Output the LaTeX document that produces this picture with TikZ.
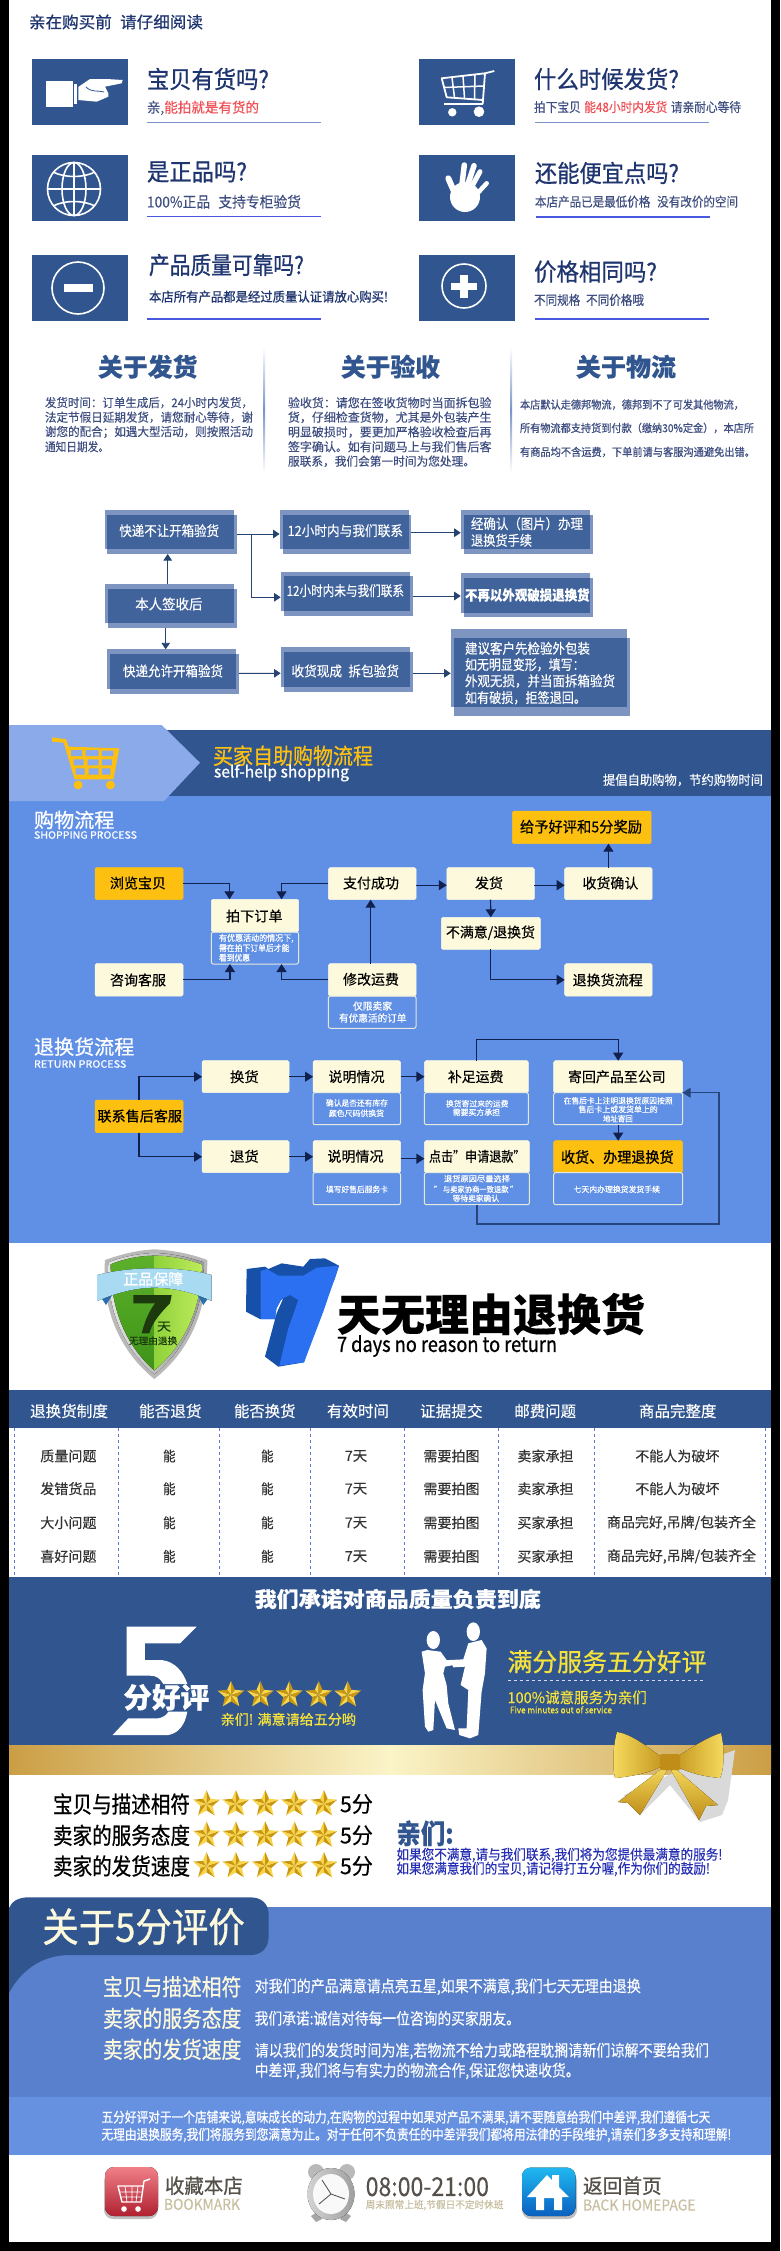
\documentclass[tikz,border=0pt]{standalone}
\usepackage{fontspec}
\usepackage{graphicx}
\setmainfont[FakeBold=0.25]{Noto Sans CJK SC}
\newfontfamily\semib[FakeBold=0.8]{Noto Sans CJK SC}
\usetikzlibrary{arrows.meta,shapes.geometric,calc}
\definecolor{navy}{HTML}{30558F}
\definecolor{ink}{HTML}{1F3570}
\definecolor{subink}{HTML}{3F4F82}
\definecolor{flowl}{HTML}{7D95C0}
\definecolor{flowd}{HTML}{41639C}
\definecolor{skyb}{HTML}{6090E6}
\definecolor{lightb}{HTML}{8AAAEA}
\definecolor{gold}{HTML}{FDC010}
\definecolor{cream}{HTML}{FDF9DC}
\definecolor{lineb}{HTML}{7A93C8}
\definecolor{redt}{HTML}{F04F55}
\definecolor{arrowd}{HTML}{10214F}
\definecolor{ylw}{HTML}{F5E23C}
\definecolor{midb}{HTML}{5880CC}
\definecolor{bandb}{HTML}{6690E0}
\definecolor{beige}{HTML}{C8BFA0}
\definecolor{brownt}{HTML}{55504A}
\definecolor{bandgold}{HTML}{CB9E45}
\definecolor{bandlight}{HTML}{FBF4C8}
\definecolor{bowa}{HTML}{F6DC60}
\definecolor{bowb}{HTML}{C08E18}
\definecolor{shla}{HTML}{5DB02A}
\definecolor{shlb}{HTML}{3E9418}
\definecolor{shra}{HTML}{8FD23A}
\definecolor{shrb}{HTML}{BDEB5C}
\definecolor{ribl}{HTML}{A8DAF2}
\definecolor{ribm}{HTML}{2F86D0}
\definecolor{ribd}{HTML}{2A6FB0}
\definecolor{sevena}{HTML}{2A70F0}
\definecolor{sevenb}{HTML}{1650A8}
\definecolor{dark7}{HTML}{1C3A0E}
\definecolor{homea}{HTML}{20B8F0}
\definecolor{homeb}{HTML}{0A60C0}
\definecolor{reda}{HTML}{F08088}
\definecolor{redb}{HTML}{B02030}
\newcounter{tcnt}
\newsavebox{\tb}
% left x, right x, centre y, size, text
\newcommand\TF[6][]{\stepcounter{tcnt}\node[anchor=west,inner sep=0pt,outer sep=0pt,#1] (t\arabic{tcnt}) at (#2,#4) {\sbox\tb{\fontsize{#5}{#5}\selectfont #6}\pgfmathsetmacro\rr{(#3-#2)/\the\wd\tb}\scalebox{\rr}[1]{\usebox\tb}};}
% flow box: name, A rectangle, B rectangle
\newcommand\FB[9]{\fill[flowl] (#2,#3) rectangle (#4,#5); \fill[flowl] (#6,#7) rectangle (#8,#9); \fill[flowd] (#6,#7) rectangle (#4,#5);
 \node[inner sep=0pt,outer sep=0pt,minimum width={(#8-#2)*1pt},minimum height={(#9-#3)*1pt}] (#1) at ({(#2+#8)/2},{(#3+#9)/2}) {};}
% rounded box
\newcommand\BX[6][creambox]{\node[#1,minimum width={(#5-#3)*1pt},minimum height={(#6-#4)*1pt}] (#2) at ({(#3+#5)/2},{(#4+#6)/2}) {};}
% star
\newcommand\STAR[3]{\foreach \i in {0,...,9}{\pgfmathsetmacro\aa{90+36*\i}\pgfmathsetmacro\ab{90+36*(\i+1)}\pgfmathsetmacro\ra{mod(\i,2)==0?#3:0.46*#3}\pgfmathsetmacro\rb{mod(\i,2)==0?0.46*#3:#3}\pgfmathsetmacro\cc{mod(\i,2)==0?1:0}
 \ifdim\cc pt>0.5pt\def\sc{starl}\else\def\sc{stard}\fi
 \fill[\sc] (#1,#2) -- ({#1+\ra*cos(\aa)},{#2-\ra*sin(\aa)}) -- ({#1+\rb*cos(\ab)},{#2-\rb*sin(\ab)}) -- cycle;}}
\definecolor{starl}{HTML}{F8D54A}
\definecolor{stard}{HTML}{C9960F}
\tikzset{
 icon/.style={fill=navy},
 creambox/.style={fill=cream,draw=cream!80!white,rounded corners=1.5pt,inner sep=0pt,outer sep=0pt,line width=.5pt},
 goldbox/.style={fill=gold,draw=gold,rounded corners=1.5pt,inner sep=0pt,outer sep=0pt,line width=.5pt},
 notebox/.style={draw=cream!85!skyb,rounded corners=2pt,line width=1pt,inner sep=0pt,outer sep=0pt},
 rul/.style={line width=1.5pt,draw=lineb},
 fa/.style={draw=navy!80!black,line width=.9pt,-{Triangle[length=6.5pt,width=8.5pt]}},
 sa/.style={draw=arrowd,line width=1.2pt,-{Triangle[length=8pt,width=10pt]}},
 white line/.style={draw=white,line width=1.6pt},
}
\begin{document}
\begin{tikzpicture}[x=1pt,y=-1pt]
\useasboundingbox (0,0) rectangle (780,2251);
\fill[black] (0,0) rectangle (780,2251);
\fill[white] (9,0) rectangle (771,2241.7);

% ---------- header and six questions
\TF[text=ink]{29}{203}{22}{16}{\semib 亲在购买前\hspace{.5em}请仔细阅读}
\foreach \xa/\ya in {32/59,419/59,32/155,419/155,32/255,419/255}
  \fill[icon] (\xa,\ya) rectangle (\xa+96,\ya+66);
% pointing hand
\fill[white] (45.7,81) rectangle (73.3,106.7);
\fill[white] (74,84) rectangle (77,104);
\fill[white] (78.3,87) -- (90,79) -- (106.7,79) -- (122.7,80) -- (121.7,83.3) -- (105,86.7) -- (108.3,93.3) -- (108.3,96.7) -- (96.7,101.7) -- (78.3,100) -- cycle;
\draw[navy,line width=.8pt] (86,87) .. controls (92,93) and (98,90) .. (104,92);
% globe
\draw[white line] (74,189) circle (26.5);
\draw[white line] (74,189) ellipse (12 and 26.5);
\draw[white line] (74,162.5) -- (74,215.5) (47.5,189) -- (100.5,189);
\draw[white line] (53,172) .. controls (65,178) and (83,178) .. (95,172);
\draw[white line] (53,206) .. controls (65,200) and (83,200) .. (95,206);
% cart
\draw[white,line width=1.8pt,line join=round] (494.3,71) -- (485,73.3) -- (482.7,104) (485,73.3) -- (441.7,78.3) -- (446.7,97.3) -- (483,100);
\draw[white,line width=1.5pt] (443.5,87.5) -- (484,86) (452,77.5) -- (454.5,97.5) (463,76) -- (464.5,98.5) (475,75) -- (474.5,99);
\draw[white,line width=1.8pt] (444.3,104.3) -- (483.3,104.3);
\fill[white] (452.3,112.3) circle (4.2) (479,111.7) circle (5.3);
% open hand
\fill[white] (465,197) ellipse (15 and 15);
\draw[white,line cap=round,line width=6pt] (448.3,178.3) -- (456,196);
\draw[white,line cap=round,line width=5.5pt] (464.3,165) -- (461.7,187) (474,165.7) -- (467,187);
\draw[white,line cap=round,line width=5pt] (480,171.7) -- (471,188);
\draw[white,line cap=round,line width=4.5pt] (486.7,183.3) -- (475,196);
% minus
\draw[white,line width=1.6pt] (78,288) ellipse (26 and 26);
\fill[white] (64,283.5) rectangle (93,292);
% plus
\draw[white,line width=1.6pt] (464,286) ellipse (22 and 22);
\fill[white] (451,282.5) rectangle (476.5,290);
\fill[white] (460.2,275) rectangle (467.8,298);

\TF[text=ink]{147}{269}{79}{24}{\semib 宝贝有货吗?}
\TF{147}{259}{108}{14}{\textcolor{subink}{亲,}\textcolor{redt}{能拍就是有货的}}
\draw[rul] (147,122.7) -- (321,122.7);
\TF[text=ink]{534}{679}{79}{24}{\semib 什么时候发货?}
\TF{534}{741}{107}{13}{\textcolor{subink}{拍下宝贝}\textcolor{redt}{\hspace{.3em}能48小时内发货\hspace{.3em}}\textcolor{subink}{请亲耐心等待}}
\draw[rul] (535,122.7) -- (709,122.7);
\TF[text=ink]{147}{247}{172}{24}{\semib 是正品吗?}
\TF[text=subink]{147}{301}{201.7}{15}{100\%正品\hspace{.6em}支持专柜验货}
\draw[rul,line width=1.2pt,draw=lineb!60!blue] (147,216.5) -- (321,216.5);
\TF[text=ink]{535}{679}{173}{24}{\semib 还能便宜点吗?}
\TF[text=subink]{535}{738}{201.7}{13}{本店产品已是最低价格\hspace{.6em}没有改价的空间}
\draw[rul,line width=1.2pt,draw=lineb!60!blue] (536,217) -- (710,217);
\TF[text=ink]{149}{304}{265}{24}{\semib 产品质量可靠吗?}
\TF[text=ink]{149}{388}{296.7}{13}{\semib 本店所有产品都是经过质量认证请放心购买!}
\draw[rul,line width=1.2pt,draw=lineb!60!blue] (147,319) -- (321,319);
\TF[text=ink]{534}{657}{271.7}{24}{\semib 价格相同吗?}
\TF[text=subink]{534}{644}{300}{13}{不同规格\hspace{.5em}不同价格哦}
\draw[rul,line width=1.2pt,draw=lineb!60!blue] (535,319) -- (709,319);

% ---------- three columns
\shade[top color=white,bottom color=white,middle color=lineb] (263.5,347) rectangle (265,473);
\shade[top color=white,bottom color=white,middle color=lineb] (510.5,347) rectangle (512,473);
\TF[text=navy]{98}{197.5}{366.7}{25}{\bfseries 关于发货}
\TF[text=navy]{341}{440}{366.7}{25}{\bfseries 关于验收}
\TF[text=navy]{576}{676}{366.7}{25}{\bfseries 关于物流}
\TF[text=subink]{45}{253}{402.7}{12}{发货时间：订单生成后，24小时内发货，}
\TF[text=subink]{45}{253}{417.3}{12}{法定节假日延期发货，请您耐心等待，谢}
\TF[text=subink]{45}{253}{432}{12}{谢您的配合；如遇大型活动，则按照活动}
\TF[text=subink]{45}{109}{446.7}{12}{通知日期发。}
\TF[text=subink]{288}{491.5}{402.7}{12}{验收货：请您在签收货物时当面拆包验}
\TF[text=subink]{288}{491.5}{417.3}{12}{货，仔细检查货物，尤其是外包装产生}
\TF[text=subink]{288}{491.5}{432}{12}{明显破损时，要更加严格验收检查后再}
\TF[text=subink]{288}{491.5}{446.7}{12}{签字确认。如有问题马上与我们售后客}
\TF[text=subink]{288}{475}{461.3}{12}{服联系，我们会第一时间为您处理。}
\TF[text=subink]{520}{744}{404.7}{11}{\semib 本店默认走德邦物流，德邦到不了可发其他物流，}
\TF[text=subink]{520}{754}{428}{11}{\semib 所有物流都支持货到付款（缴纳30\%定金），本店所}
\TF[text=subink]{520}{755}{452}{11}{\semib 有商品均不含运费，下单前请与客服沟通避免出错。}

% ---------- first flow chart
\FB{ba}{104.5}{510}{234.3}{549.3}{107.3}{514.5}{237.3}{554}
\FB{bb}{279.6}{510}{409}{549.3}{282.6}{514.5}{411.4}{554}
\FB{bc}{460.7}{510}{590}{549.3}{463.7}{514.5}{593}{554}
\FB{bd}{280.6}{571.7}{410}{611}{283.6}{576.2}{413}{615.7}
\FB{be}{460.7}{573.3}{590}{612.7}{463.7}{577.8}{593}{617.3}
\FB{bf}{104.5}{584}{234.3}{623.3}{107.5}{588.5}{237.3}{628.3}
\FB{bg}{106.5}{649.3}{235.8}{689}{109.5}{653.8}{238.8}{693.7}
\FB{bh}{280.6}{647.3}{410}{687.3}{283.6}{651.8}{413}{692}
\FB{bi}{450.7}{628.7}{626.9}{706.7}{453.7}{638.3}{630.3}{716}
\TF[text=white]{119.4}{219}{530.7}{14}{快递不让开箱验货}
\TF[text=white]{287.6}{403}{530.7}{14}{12小时内与我们联系}
\TF[text=white]{471}{583}{523.7}{14}{经确认（图片）办理}
\TF[text=white]{471}{532}{540.3}{14}{退换货手续}
\TF[text=white]{286.6}{404}{590.7}{14}{12小时内未与我们联系}
\TF[text=white]{465}{589.6}{595}{14}{\bfseries 不再以外观破损退换货}
\TF[text=white]{135.3}{202.5}{604}{14}{本人签收后}
\TF[text=white]{123}{223}{671}{14}{快递允许开箱验货}
\TF[text=white]{291.5}{399}{671}{14}{收货现成\hspace{.5em}拆包验货}
\TF[text=white]{465}{590}{648.3}{14}{建议客户先检验外包装}
\TF[text=white]{465}{584.6}{664.7}{14}{如无明显变形，填写：}
\TF[text=white]{465}{615}{681}{14}{外观无损，并当面拆箱验货}
\TF[text=white]{465}{586}{697.7}{14}{如有破损，拒签退回。}
\draw[fa] ([xshift=-3.2pt]bf.north) -- ([xshift=-3.2pt]ba.south);
\draw[fa] ([xshift=-5.2pt]bf.south) -- ([xshift=-6.95pt]bg.north);
\draw[fa] ([yshift=-2pt]ba.east) -- ([yshift=-2pt]bb.west);
\draw[fa] ([yshift=-2pt,xshift=14.4pt]ba.east) |- ([yshift=-3.6pt]bd.west);
\draw[fa] ([yshift=-.7pt]bb.east) -- ([yshift=-.7pt]bc.west);
\draw[fa] ([yshift=-2.3pt]bd.east) -- ([yshift=-.7pt]be.west);
\draw[fa] ([yshift=-1.8pt]bg.east) -- ([yshift=-3.65pt]bh.west);
\draw[fa] ([yshift=-3.65pt]bh.east) -- ([yshift=-.95pt]bi.west);

% ---------- shopping section
\fill[skyb] (9,796) rectangle (771,1242.7);
\fill[navy] (166,730) rectangle (771,796);
\fill[lightb] (9,725) -- (161.7,725) -- (200,762.7) -- (164,801) -- (9,801) -- cycle;
\begin{scope}[shift={(0,720)},x=.4975pt,y=-.3333pt]
 \fill[gold] (105,52) -- (133,58) -- (138,80) -- (240,85) -- (228,178) -- (150,178) -- (128,68) -- (105,65) -- cycle;
 \fill[lightb] (143,90) rectangle (165,108) (172,90) rectangle (198,108) (205,92) rectangle (228,108)
  (148,118) rectangle (168,136) (176,118) rectangle (198,136) (205,118) rectangle (225,136)
  (152,145) rectangle (170,164) (178,145) rectangle (198,164) (205,145) rectangle (222,164);
 \fill[gold] (157,195) ellipse (9 and 13) (222,195) ellipse (9 and 13);
\end{scope}
\TF[text=gold]{213}{373}{755.7}{22}{\semib 买家自助购物流程}
\TF[text=white]{214}{349}{773}{16}{\semib self-help shopping}
\TF[text=white]{603}{763}{780}{13}{提倡自助购物，节约购物时间}
\TF[text=white]{34}{114.4}{820}{20}{\semib 购物流程}
\TF[text=white]{34}{137}{835}{10}{\semib SHOPPING PROCESS}

\BX[goldbox]{ga}{512.4}{811}{651.2}{843.7}
\BX[goldbox]{gb}{95}{867.7}{183}{899.7}
\BX{pa}{211.4}{899.3}{298.5}{932}
\BX[notebox]{pn}{211.4}{932}{298.5}{964}
\BX{zf}{328.4}{867.7}{416}{899.7}
\BX{fh}{446.8}{867.7}{534.3}{899.7}
\BX{sh}{564.7}{867.7}{652.2}{899.7}
\BX{bm}{441.3}{917.3}{540.3}{949.3}
\BX{zx}{95}{963.7}{183}{996}
\BX{xg}{328.4}{963.7}{416}{996}
\BX[notebox]{xn}{328.4}{996}{416}{1028.3}
\BX{th}{564.7}{963.7}{652.2}{996}
\TF{520}{642}{826.7}{15}{给予好评和5分奖励}
\TF{110}{166}{883}{14}{浏览宝贝}
\TF{226}{282.6}{916}{14}{拍下订单}
\TF[text=white]{219}{293.5}{938.3}{8.5}{\semib 有优惠活动的情况下,}
\TF[text=white]{219}{289.5}{948}{8.5}{\semib 需在拍下订单后才能}
\TF[text=white]{219}{250}{957.7}{8.5}{\semib 看到优惠}
\TF{343}{399}{883}{14}{支付成功}
\TF{475}{503}{883}{14}{发货}
\TF{582.6}{638.3}{883}{14}{收货确认}
\TF{446}{535}{932.7}{14}{不满意/退换货}
\TF{110}{166}{980}{14}{咨询客服}
\TF{343}{399}{979.3}{14}{修改运费}
\TF[text=white]{353}{392}{1006}{10}{仅限卖家}
\TF[text=white]{339}{406.5}{1018}{10}{有优惠活的订单}
\TF{572.6}{642.8}{980}{14}{退换货流程}

\draw[sa] (gb.east) -| ([xshift=-25.5pt]pa.north);
\draw[sa] (zf.west) -| ([xshift=26.6pt]pa.north);
\draw[sa] ([yshift=-1.5pt]zf.east) -- ([yshift=-1.5pt]fh.west);
\draw[sa] ([yshift=-1.5pt]fh.east) -- ([yshift=-1.5pt]sh.west);
\draw[sa] (sh.north) -- (sh.north |- ga.south);
\draw[sa] (fh.south) -- (bm.north);
\draw[sa] (bm.south) |- (th.west);
\draw[sa] ([xshift=-1.6pt]xg.north) -- ([xshift=-1.6pt]zf.south);
\draw[sa] (xg.west) -| ([xshift=26.6pt]pn.south);
\draw[sa] (zx.east) -| ([xshift=-25pt]pn.south);

% ---------- return section
\TF[text=white]{34}{134.3}{1046.7}{20}{\semib 退换货流程}
\TF[text=white]{34}{126.4}{1064}{10}{\semib RETURN PROCESS}
\BX[goldbox]{lx}{95}{1100}{183}{1132.7}
\BX{hh}{202}{1060.7}{289}{1092.7}
\BX{tt}{202}{1140.7}{289}{1172.7}
\BX{sa}{313}{1060.7}{400.5}{1092.7}
\BX[notebox]{san}{313}{1092.7}{400.5}{1124.7}
\BX{bz}{424.4}{1060.7}{528.4}{1092.7}
\BX[notebox]{bzn}{424.4}{1092.7}{528.4}{1124.7}
\BX{jh}{553.7}{1060.7}{682.6}{1092.7}
\BX[notebox]{jhn}{553.7}{1092.7}{682.6}{1124.7}
\BX{sb}{313}{1140.7}{400.5}{1172.7}
\BX[notebox]{sbn}{313}{1172.7}{400.5}{1204.7}
\BX{dj}{424.4}{1140.7}{529.4}{1172.7}
\BX[notebox]{djn}{424.4}{1172.7}{529.4}{1204.7}
\BX[goldbox]{sj}{553.7}{1140.7}{682.6}{1172.7}
\BX[notebox]{sjn}{553.7}{1172.7}{682.6}{1204.7}
\TF{97.5}{182}{1116}{14}{\semib 联系售后客服}
\TF{230}{258.7}{1076.7}{14}{换货}
\TF{230}{258.7}{1156.3}{14}{退货}
\TF{328.4}{384.6}{1076.7}{14}{说明情况}
\TF{447.8}{503.5}{1076.7}{14}{补足运费}
\TF{568}{665.7}{1076.7}{14}{寄回产品至公司}
\TF{327.4}{383.6}{1156.3}{14}{说明情况}
\TF{429}{525.4}{1156.3}{14}{点击"申请退款"}
\TF{561}{673.6}{1157}{15}{\semib 收货、办理退换货}
\TF[text=white]{326}{388}{1103}{8}{确认是否还有库存}
\TF[text=white]{329}{384}{1113.3}{8}{颜色尺码供换货}
\TF[text=white]{446}{508.5}{1103.7}{8}{换货寄过来的运费}
\TF[text=white]{452.7}{500}{1112.3}{8}{需要买方承担}
\TF[text=white]{563.7}{672.6}{1100.7}{8}{在售后卡上注明退换货原因按照}
\TF[text=white]{578.6}{657.7}{1109.3}{8}{售后卡上或发货单上的}
\TF[text=white]{603}{632.8}{1118.7}{8}{地址寄回}
\TF[text=white]{326}{388}{1189.3}{8}{填写好售后服务卡}
\TF[text=white]{444}{510}{1178.7}{8}{退货原因尽量选择}
\TF[text=white]{434}{517.4}{1189.3}{8}{" 与卖家协商一致退款 "}
\TF[text=white]{452.7}{499}{1198.3}{8}{等待卖家确认}
\TF[text=white]{573.6}{660}{1189.3}{8}{七天内办理换货发货手续}
\coordinate (topc) at (0,1039.3);
\coordinate (rt) at (719,1224);
\draw[sa] (lx.north) |- (hh.west);
\draw[sa] (lx.south) |- (tt.west);
\draw[sa] (hh.east) -- (sa.west);
\draw[sa] (sa.east) -- (bz.west);
\draw[sa] (tt.east) -- (sb.west);
\draw[sa] ([yshift=-2pt]sb.east) -- ([yshift=-2pt]dj.west);
\draw[sa,draw=arrowd] (bz.north) -- (bz.north |- topc) -| (jh.north);
\draw[sa] (jhn.south) -- (sj.north);
\draw[sa,draw=navy!70!arrowd] (djn.south) |- (rt) |- (jh.south east);

% ---------- seven days
\begin{scope}[shift={(90,1245)},x=.3333pt,y=-.3333pt]
 \fill[gray!55] (45,45) .. controls (100,25) and (150,15) .. (193,13) .. controls (240,15) and (300,25) .. (352,45) .. controls (352,180) and (310,310) .. (193,402) .. controls (80,310) and (35,180) .. (45,45) -- cycle;
 \fill[left color=white!80!gray,right color=gray!80] (55,52) .. controls (100,35) and (150,25) .. (193,24) .. controls (240,25) and (290,35) .. (342,52) .. controls (340,180) and (300,300) .. (193,388) .. controls (90,300) and (50,180) .. (55,52) -- cycle;
 \fill[top color=shla,bottom color=shlb] (193,32) .. controls (150,32) and (100,42) .. (62,58) .. controls (62,180) and (100,295) .. (193,376) -- cycle;
 \fill[left color=shra,right color=shrb] (193,32) .. controls (240,32) and (290,42) .. (335,58) .. controls (335,180) and (290,295) .. (193,376) -- cycle;
 \fill[ribd] (25,145) -- (48,180) -- (70,145) -- cycle (365,145) -- (340,180) -- (320,145) -- cycle;
 \fill[left color=ribl,middle color=ribm,right color=ribl] (22,90) .. controls (80,75) and (140,70) .. (193,70) .. controls (250,70) and (310,75) .. (365,90) -- (365,168) .. controls (310,142) and (250,128) .. (193,128) .. controls (140,128) and (80,142) .. (22,168) -- cycle;
 \fill[dark7] (130,150) -- (245,150) -- (240,175) .. controls (200,215) and (185,240) .. (178,265) -- (155,265) .. controls (165,225) and (180,195) .. (195,175) -- (130,175) -- cycle;
 % big seven
 \fill[sevenb] (470,72) -- (525,65) -- (535,72) -- (575,55) -- (640,65) -- (660,42) -- (705,40) -- (747,62) -- (735,100) -- (690,210) -- (642,352) -- (565,365) -- (525,335) -- (560,205) -- (580,160) -- (560,175) -- (555,222) -- (510,222) -- (468,200) -- cycle;
 \fill[sevena] (512,78) -- (530,72) -- (565,92) -- (640,92) -- (680,68) -- (747,62) -- (700,200) -- (642,352) -- (568,362) -- (595,250) -- (625,165) -- (600,150) -- (575,162) -- (560,190) -- (555,222) -- (512,222) -- cycle;
\end{scope}
\TF[text=white]{123.3}{183.3}{1279}{15}{\semib 正品保障}
\TF[text=dark7]{157}{171}{1326.7}{12}{天}
\TF[text=dark7]{129}{177.3}{1340.7}{9.5}{无理由退换}
\TF{337}{645}{1314}{44}{\bfseries 天无理由退换货}
\TF{337}{557}{1346}{21}{\semib 7 days no reason to return}

% ---------- table
\fill[navy] (9,1390) rectangle (771,1428.3);
\foreach \xa in {14,118,219,310.4,404,498.5,594.5,765}
  \draw[lineb!80!blue,dashed,line width=.7pt] (\xa,1428.3) -- (\xa,1577.3);
\TF[text=white]{30}{108}{1411}{15.5}{退换货制度}
\TF[text=white]{139}{201.5}{1411}{15.5}{能否退货}
\TF[text=white]{234}{295.5}{1411}{15.5}{能否换货}
\TF[text=white]{327}{389}{1411}{15.5}{有效时间}
\TF[text=white]{420}{482.6}{1411}{15.5}{证据提交}
\TF[text=white]{514.4}{576}{1411}{15.5}{邮费问题}
\TF[text=white]{639}{716.4}{1411}{15.5}{商品完整度}
\foreach \ya/\aaa/\bbb/\ccc/\dxa/\dxb in {
 1456/质量问题/卖家承担/不能人为破坏/635.3/719.4,
 1488.7/发错货品/卖家承担/不能人为破坏/635.3/719.4,
 1522.7/大小问题/买家承担/{商品完好,吊牌/包装齐全}/607/756,
 1556.3/喜好问题/买家承担/{商品完好,吊牌/包装齐全}/607/756}{
 \TF[text=black!80]{40.3}{96.5}{\ya}{14}{\aaa}
 \TF[text=black!80]{163}{175.6}{\ya}{14}{能}
 \TF[text=black!80]{261}{273.6}{\ya}{14}{能}
 \TF[text=black!80]{344.8}{367.2}{\ya}{14}{7天}
 \TF[text=black!80]{423.4}{479.6}{\ya}{14}{需要拍图}
 \TF[text=black!80]{517.4}{573.6}{\ya}{14}{\bbb}
 \TF[text=black!80]{\dxa}{\dxb}{\ya}{14}{\ccc}
}

% ---------- five stars banner
\fill[navy] (9,1577.3) rectangle (771,1745);
\shade[left color=bandgold,right color=bandgold,middle color=bandlight] (9,1745) rectangle (771,1774);
\TF[text=white]{254.7}{540.8}{1599}{21}{\bfseries 我们承诺对商品质量负责到底}
\begin{scope}[shift={(100,1610)},x=.3333pt,y=-.3333pt]
 \fill[white] (80,50) -- (290,50) -- (240,100) -- (135,100) -- (135,150) -- (185,150) .. controls (225,155) and (250,185) .. (262,222) -- (190,222) .. controls (180,205) and (170,197) .. (150,197) -- (80,197) -- cycle;
 \fill[white] (262,305) .. controls (255,345) and (235,370) .. (205,375) -- (38,375) -- (85,325) -- (175,325) .. controls (190,322) and (200,315) .. (205,305) -- cycle;
 % couple
 \fill[white] (1000,90) ellipse (20 and 27);
 \fill[white] (982,120) -- (965,125) -- (975,190) -- (968,240) -- (975,350) -- (985,365) -- (1000,360) -- (1005,270) -- (1040,355) -- (1065,360) -- (1045,280) -- (1040,225) -- (1030,190) -- (1035,170) -- (1060,165) -- (1085,150) -- (1040,150) -- (1022,125) -- cycle;
 \fill[white] (1120,65) ellipse (20 and 28);
 \fill[white] (1105,100) -- (1145,90) -- (1160,115) -- (1155,190) -- (1145,245) -- (1135,375) -- (1110,385) -- (1078,375) -- (1075,355) -- (1100,355) -- (1105,240) -- (1082,225) -- (1095,170) -- (1060,172) -- (1050,150) -- (1090,148) -- cycle;
\end{scope}
\TF[text=white]{123.3}{209.3}{1697.3}{28}{\bfseries 分好评}
\STAR{231}{1695}{14}\STAR{260.3}{1695}{14}\STAR{289.3}{1695}{14}\STAR{318.7}{1695}{14}\STAR{347.7}{1695}{14}
\TF[text=ylw]{220.7}{356}{1719.3}{14}{\semib 亲们! 满意请给五分哟}
\TF[text=ylw]{507.5}{706.5}{1661.7}{25}{\semib 满分服务五分好评}
\draw[draw=blue!15!white,dashed,line width=.8pt] (507.5,1680.3) -- (704,1680.3);
\TF[text=ylw]{507.5}{646.8}{1697.3}{15}{100\%诚意服务为亲们}
\TF[text=ylw]{510}{612}{1709.7}{9}{\semib Five minutes out of service}

% bow
\fill[gray!30] (624,1795) -- (680,1770) -- (735,1750) -- (728,1800) -- (722,1815) -- (700,1822) -- (670,1785) -- (640,1815) -- cycle;
\fill[top color=bowa,bottom color=bowb] (668,1764) -- (618,1802) -- (628,1803) -- (640,1815) -- (666,1772) -- cycle;
\fill[top color=bowa,bottom color=bowb] (670,1764) -- (718,1805) -- (706,1806) -- (699,1820) -- (672,1772) -- cycle;
\fill[left color=bowa,right color=bowb] (669,1762) .. controls (650,1750) and (635,1735) .. (617,1732) .. controls (612,1750) and (613,1770) .. (615,1778) .. controls (635,1776) and (655,1772) .. (669,1762) -- cycle;
\fill[right color=bowa,left color=bowb] (669,1762) .. controls (688,1750) and (705,1738) .. (721,1733) .. controls (725,1750) and (724,1770) .. (720,1778) .. controls (700,1776) and (685,1772) .. (669,1762) -- cycle;
\fill[bowb,rounded corners=2pt] (660,1754) rectangle (680,1770);

\TF{53}{190}{1804}{23}{\semib 宝贝与描述相符}
\TF{53}{190}{1835.3}{23}{\semib 卖家的服务态度}
\TF{53}{190}{1866}{23}{\semib 卖家的发货速度}
\foreach \ya in {1804,1835.3,1866}{
 \STAR{206.5}{\ya}{14}\STAR{235.8}{\ya}{14}\STAR{265.2}{\ya}{14}\STAR{294.5}{\ya}{14}\STAR{323.9}{\ya}{14}
 \TF{340}{373}{\ya}{22}{5分}
}
\TF[text=navy]{396.5}{453.7}{1833.3}{27}{\bfseries 亲们:}
\TF[text=blue!40!subink]{396.5}{722.4}{1855}{14}{如果您不满意,请与我们联系,我们将为您提供最满意的服务!}
\TF[text=blue!40!subink]{396.5}{710}{1869}{14}{如果您满意我们的宝贝,请记得打五分喔,作为你们的鼓励!}

% ---------- about five points
\fill[midb] (9,1907.3) rectangle (771,2097.3);
\fill[bandb] (9,2097.3) rectangle (771,2155);
\fill[navy] (9,1910) .. controls (10,1902) and (18,1897.3) .. (28,1897.3) -- (250,1897.3) .. controls (262,1897.3) and (268.7,1904) .. (268.7,1915) -- (268.7,1935) .. controls (268.7,1948) and (262,1955) .. (250,1955) -- (70,1955) .. controls (40,1955) and (20,1972) .. (9,1993) -- cycle;
\TF[text=cream]{42.3}{244.8}{1926.7}{40}{\semib 关于5分评价}
\TF[text=cream]{103}{241.3}{1986.7}{23}{\semib 宝贝与描述相符}
\TF[text=cream]{103}{241.3}{2018.3}{23}{\semib 卖家的服务态度}
\TF[text=cream]{103}{241.3}{2049.3}{23}{\semib 卖家的发货速度}
\TF[text=white]{254.7}{640.8}{1986.7}{16}{对我们的产品满意请点亮五星,如果不满意,我们七天无理由退换}
\TF[text=white]{254.7}{520}{2018.3}{16}{我们承诺:诚信对待每一位咨询的买家朋友。}
\TF[text=white]{254.7}{709}{2051}{16}{请以我们的发货时间为准,若物流不给力或路程耽搁请新们谅解不要给我们}
\TF[text=white]{254.7}{579.6}{2071}{16}{中差评,我们将与有实力的物流合作,保证您快速收货。}
\TF[text=white]{101.5}{710.4}{2117.7}{14}{\semib 五分好评对于一个店铺来说,意味成长的动力,在购物的过程中如果对产品不满果,请不要随意给我们中差评,我们遵循七天}
\TF[text=white]{101.5}{731.3}{2135}{14}{\semib 无理由退换服务,我们将服务到您满意为止。对于任何不负责任的中差评我们都将用法律的手段维护,请亲们多多支持和理解!}

% ---------- footer
\fill[gray!50,rounded corners=9pt] (104,2172) rectangle (158,2219);
\fill[top color=reda,bottom color=redb,rounded corners=9pt] (105,2167) rectangle (158,2216);
\draw[white,line width=1.4pt,line join=round] (150,2179) -- (144,2181) -- (141,2202) -- (122,2202) -- (118,2186) -- (143,2186);
\fill[white] (124,2209) circle (2.8) (138,2209) circle (2.8);
\draw[white,line width=.7pt] (120,2192) -- (142,2192) (121,2197) -- (141,2197) (125,2186) -- (127,2202) (132,2186) -- (132,2202) (138,2186) -- (136,2202);
\TF[text=brownt]{165}{242.8}{2185.7}{20}{\semib 收藏本店}
\TF[text=beige]{164}{240}{2204.3}{15}{BOOKMARK}
% clock
\fill[gray!55] (316,2172) circle (8) (347,2172) circle (8);
\fill[gray!70] (311,2216) -- (317,2212) -- (322,2219) -- (316,2222) -- cycle (351,2216) -- (345,2212) -- (340,2219) -- (346,2222) -- cycle;
\fill[left color=gray!35,right color=gray!75] (331,2194) ellipse (23.5 and 26);
\fill[white!95!gray] (331,2194) ellipse (18 and 20);
\draw[gray!70!black,line width=.9pt] (331,2194) -- (322,2180) (331,2194) -- (345,2199) (331,2194) -- (319,2204);
\TF[text=brownt]{365.7}{489}{2186.7}{26}{08:00-21:00}
\TF[text=beige]{365.7}{503.5}{2205}{10}{\semib 周末照常上班,节假日不定时休班}
% home
\fill[gray!50,rounded corners=9pt] (522,2172) rectangle (577,2219);
\fill[top color=homea,bottom color=homeb,rounded corners=9pt] (522,2167.5) rectangle (575.6,2216);
\fill[white] (547,2175) -- (552,2180) -- (552,2175) -- (559,2175) -- (559,2187) -- (569,2197) -- (562,2197) -- (562,2210) -- (554,2210) -- (554,2198) -- (544,2198) -- (544,2210) -- (536,2210) -- (536,2197) -- (527,2197) -- cycle;
\TF[text=brownt]{583}{661.7}{2185.7}{20}{\semib 返回首页}
\TF[text=beige]{583}{695.5}{2205}{15}{BACK HOMEPAGE}
\end{tikzpicture}
\end{document}
